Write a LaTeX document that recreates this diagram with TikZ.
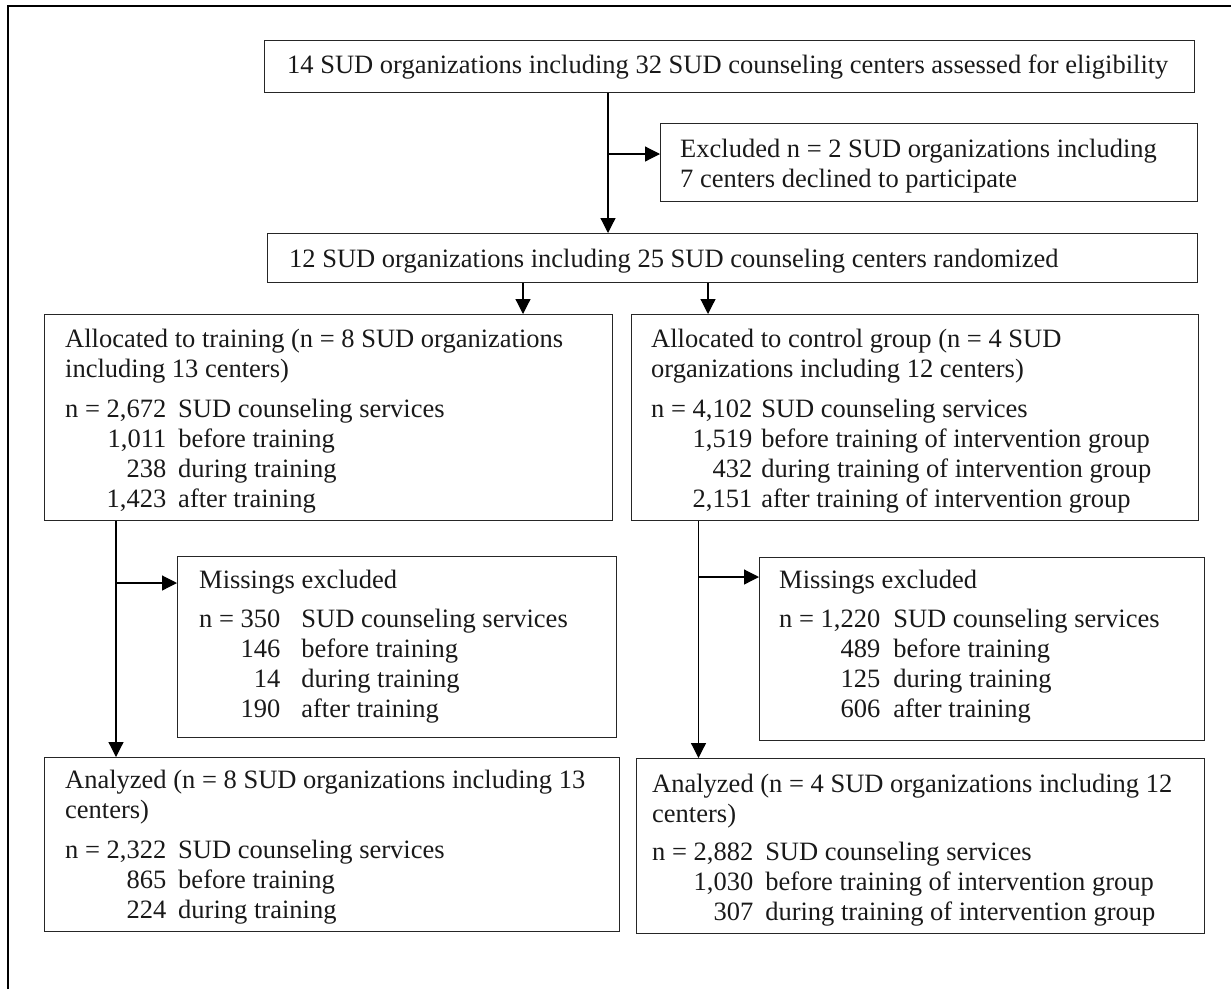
\documentclass[tikz,border=0pt]{standalone}
\usepackage{fontspec}
\setmainfont{Liberation Serif}
\usetikzlibrary{arrows.meta}
\begin{document}
\begin{tikzpicture}[x=1pt,y=-1pt,
  box/.style={draw=black!85, line width=1.4pt, rectangle, anchor=north west, inner sep=0pt},
  txt/.style={anchor=base west, inner sep=0pt, font=\fontsize{26.5}{30}\selectfont, text=black!90},
  conn/.style={line width=1.2pt, -{Triangle[length=15pt,width=15pt]}},
  frame/.style={line width=1.3pt}]
\useasboundingbox (0,0) rectangle (1231,989);
% outer frame (cut off at right and bottom)
\draw[frame] (8,989) -- (8,6) -- (1231,6);

% boxes
\node[box, minimum width=930pt, minimum height=52pt] (b1) at (264,40) {};
\node[box, minimum width=537pt, minimum height=78pt] (excl) at (660,123) {};
\node[box, minimum width=930pt, minimum height=49pt] (rand) at (267,233) {};
\node[box, minimum width=568pt, minimum height=206pt] (trn) at (44,314) {};
\node[box, minimum width=567pt, minimum height=206pt] (ctl) at (631,314) {};
\node[box, minimum width=439pt, minimum height=181pt] (missL) at (177,556) {};
\node[box, minimum width=445pt, minimum height=183pt] (missR) at (759,557) {};
\node[box, minimum width=575pt, minimum height=174pt] (anaL) at (44,757) {};
\node[box, minimum width=568pt, minimum height=175pt] (anaR) at (636,758) {};

% texts
\node[txt] (t1) at (287,73) {14 SUD organizations including 32 SUD counseling centers assessed for eligibility};
\node[txt] (t2) at (680,157) {\begin{tabular}[t]{@{}l@{}}Excluded n = 2 SUD organizations including\\ 7 centers declined to participate\end{tabular}};
\node[txt] (t3) at (289,267) {12 SUD organizations including 25 SUD counseling centers randomized};
\node[txt] (t4) at (65,347) {\begin{tabular}[t]{@{}r@{\hspace{12pt}}l@{}}
\multicolumn{2}{@{}l@{}}{Allocated to training (n = 8 SUD organizations}\\
\multicolumn{2}{@{}l@{}}{including 13 centers)}\\[10pt]
n = 2,672 & SUD counseling services\\
1,011 & before training\\
238 & during training\\
1,423 & after training
\end{tabular}};
\node[txt] (t5) at (651,347) {\begin{tabular}[t]{@{}r@{\hspace{9pt}}l@{}}
\multicolumn{2}{@{}l@{}}{Allocated to control group (n = 4 SUD}\\
\multicolumn{2}{@{}l@{}}{organizations including 12 centers)}\\[10pt]
n = 4,102 & SUD counseling services\\
1,519 & before training of intervention group\\
432 & during training of intervention group\\
2,151 & after training of intervention group
\end{tabular}};
\node[txt] (t6) at (199,588) {\begin{tabular}[t]{@{}r@{\hspace{21pt}}l@{}}
\multicolumn{2}{@{}l@{}}{Missings excluded}\\[9pt]
n = 350 & SUD counseling services\\
146 & before training\\
14 & during training\\
190 & after training
\end{tabular}};
\node[txt] (t7) at (779,588) {\begin{tabular}[t]{@{}r@{\hspace{13pt}}l@{}}
\multicolumn{2}{@{}l@{}}{Missings excluded}\\[9pt]
n = 1,220 & SUD counseling services\\
489 & before training\\
125 & during training\\
606 & after training
\end{tabular}};
\node[txt] (t8) at (65,788) {\begin{tabular}[t]{@{}r@{\hspace{12pt}}l@{}}
\multicolumn{2}{@{}l@{}}{Analyzed (n = 8 SUD organizations including 13}\\
\multicolumn{2}{@{}l@{}}{centers)}\\[10pt]
n = 2,322 & SUD counseling services\\
865 & before training\\
224 & during training
\end{tabular}};
\node[txt] (t9) at (652,792) {\begin{tabular}[t]{@{}r@{\hspace{12pt}}l@{}}
\multicolumn{2}{@{}l@{}}{Analyzed (n = 4 SUD organizations including 12}\\
\multicolumn{2}{@{}l@{}}{centers)}\\[8pt]
n = 2,882 & SUD counseling services\\
1,030 & before training of intervention group\\
307 & during training of intervention group
\end{tabular}};

% connectors
\coordinate (x1) at (608,154);
\draw[conn] (b1.south -| x1) -- (rand.north -| x1);
\draw[conn] (x1) -- (excl.west |- x1);

\coordinate (x2) at (523,0);
\coordinate (x3) at (708,0);
\draw[conn] (rand.south -| x2) -- (trn.north -| x2);
\draw[conn] (rand.south -| x3) -- (ctl.north -| x3);

\coordinate (x4) at (116,583);
\draw[conn] (trn.south -| x4) -- (anaL.north -| x4);
\draw[conn] (x4) -- (missL.west |- x4);

\coordinate (x5) at (698.5,577);
\draw[conn] (ctl.south -| x5) -- (anaR.north -| x5);
\draw[conn] (x5) -- (missR.west |- x5);
\end{tikzpicture}
\end{document}
